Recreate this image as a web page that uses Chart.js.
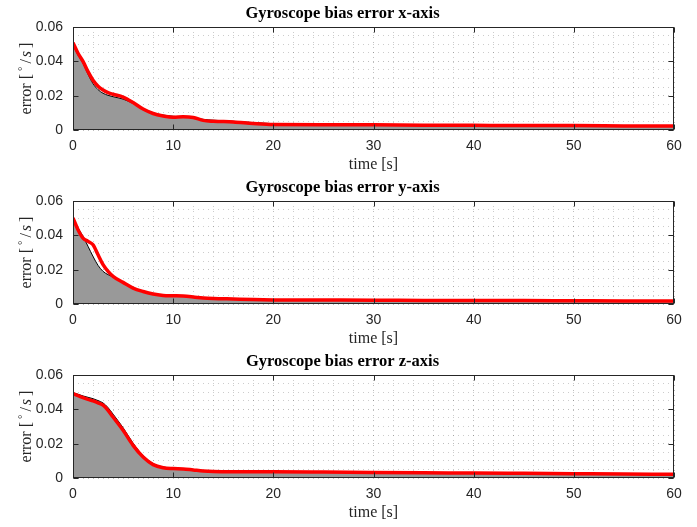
<!DOCTYPE html>
<html>
<head>
<meta charset="utf-8">
<script src="https://cdn.jsdelivr.net/npm/chart.js@4"></script>
<style>
  body { margin: 0; background: #fff; }
  .panel { position: absolute; left: 0; width: 697px; height: 174px; }
</style>
</head>
<body>
<div class="panel" style="top:0px"><canvas id="gyroX" width="697" height="174"></canvas></div>
<div class="panel" style="top:174px"><canvas id="gyroY" width="697" height="174"></canvas></div>
<div class="panel" style="top:348px"><canvas id="gyroZ" width="697" height="174"></canvas></div>
<script>
// sample times [s]
const time = [0, 0.5, 1, 1.5, 2, 2.5, 3, 3.5, 4, 5, 6, 7, 8, 9, 10, 11, 12, 13, 14, 16, 18, 20, 25, 30, 35, 40, 45, 50, 55, 60];

// grey envelope (black outline) and red error curve per axis, in deg/s
const envelopeX = [0.0495, 0.0437, 0.0388, 0.0325, 0.0270, 0.0235, 0.0214, 0.0202, 0.0194, 0.0180, 0.0155, 0.0126, 0.0100, 0.0087, 0.0080, 0.0076, 0.0072, 0.0062, 0.0057, 0.0051, 0.0043, 0.0037, 0.0033, 0.0031, 0.0029, 0.0027, 0.0026, 0.0025, 0.0024, 0.0022];
const errorX    = [0.0509, 0.0447, 0.0400, 0.0340, 0.0290, 0.0255, 0.0233, 0.0218, 0.0208, 0.0192, 0.0160, 0.0122, 0.0096, 0.0082, 0.0074, 0.0077, 0.0073, 0.0056, 0.0051, 0.0047, 0.0038, 0.0032, 0.0031, 0.0030, 0.0028, 0.0027, 0.0026, 0.0026, 0.0024, 0.0023];

const envelopeY = [0.0490, 0.0443, 0.0394, 0.0336, 0.0277, 0.0225, 0.0190, 0.0171, 0.0157, 0.0124, 0.0092, 0.0072, 0.0057, 0.0049, 0.0047, 0.0045, 0.0040, 0.0034, 0.0031, 0.0028, 0.0025, 0.0023, 0.0022, 0.0021, 0.0020, 0.0019, 0.0019, 0.0018, 0.0017, 0.0017];
const errorY    = [0.0501, 0.0433, 0.0384, 0.0365, 0.0345, 0.0287, 0.0229, 0.0190, 0.0161, 0.0126, 0.0093, 0.0073, 0.0058, 0.0050, 0.0048, 0.0046, 0.0041, 0.0035, 0.0032, 0.0029, 0.0026, 0.0024, 0.0023, 0.0022, 0.0021, 0.0020, 0.0020, 0.0019, 0.0018, 0.0018];

const envelopeZ = [0.0497, 0.0488, 0.0478, 0.0470, 0.0462, 0.0451, 0.0437, 0.0410, 0.0372, 0.0293, 0.0203, 0.0130, 0.0084, 0.0064, 0.0058, 0.0055, 0.0049, 0.0043, 0.0040, 0.0039, 0.0038, 0.0038, 0.0036, 0.0033, 0.0031, 0.0030, 0.0028, 0.0026, 0.0024, 0.0023];
const errorZ    = [0.0492, 0.0480, 0.0468, 0.0458, 0.0449, 0.0438, 0.0424, 0.0394, 0.0355, 0.0278, 0.0190, 0.0122, 0.0078, 0.0060, 0.0055, 0.0053, 0.0047, 0.0041, 0.0038, 0.0037, 0.0037, 0.0037, 0.0035, 0.0032, 0.0030, 0.0029, 0.0027, 0.0025, 0.0023, 0.0022];

// labelled ticks; grid lines are drawn at the finer steps in between
const xTicks = [0, 10, 20, 30, 40, 50, 60];
const yTicks = [0, 0.02, 0.04, 0.06];
const xGridStep = 2;
const yGridStep = 0.005;

const isMajor = (list, v) => list.some(t => Math.abs(t - v) < 1e-9);
const axisColor = '#262626';

// box around the axes with inward tick marks on all four sides
const axesBox = {
    id: 'axesBox',
    afterDatasetsDraw(chart) {
        const { ctx, chartArea: a, scales } = chart;
        const l = Math.round(a.left) + 0.5, r = Math.round(a.right) - 0.5;
        const t = Math.round(a.top) + 0.5, b = Math.round(a.bottom) - 0.5;
        ctx.save();
        ctx.strokeStyle = axisColor;
        ctx.lineWidth = 1;
        ctx.strokeRect(l, t, r - l, b - t);
        ctx.beginPath();
        xTicks.forEach(v => {
            const x = Math.round(scales.x.getPixelForValue(v)) + 0.5;
            ctx.moveTo(x, b); ctx.lineTo(x, b - 5);
            ctx.moveTo(x, t); ctx.lineTo(x, t + 5);
        });
        yTicks.forEach(v => {
            const y = Math.round(scales.y.getPixelForValue(v)) + 0.5;
            ctx.moveTo(l, y); ctx.lineTo(l + 5, y);
            ctx.moveTo(r, y); ctx.lineTo(r - 5, y);
        });
        ctx.stroke();
        ctx.restore();
    }
};

// rotated y label: error [°/s] with a raised degree sign and italic s
const yLabel = {
    id: 'yLabel',
    afterDraw(chart) {
        const { ctx, chartArea: a } = chart;
        const parts = [
            { text: 'error [', font: '16px "Liberation Serif"', dy: 0, gap: 3 },
            { text: '°', font: '11px "Liberation Serif"', dy: -5, gap: 3 },
            { text: '/', font: '16px "Liberation Serif"', dy: 0, gap: 2 },
            { text: 's', font: 'italic 16px "Liberation Serif"', dy: 0, gap: 3 },
            { text: ']', font: '16px "Liberation Serif"', dy: 0, gap: 0 }
        ];
        ctx.save();
        let total = 0;
        parts.forEach(p => { ctx.font = p.font; p.w = ctx.measureText(p.text).width; total += p.w + p.gap; });
        ctx.translate(31, (a.top + a.bottom) / 2);
        ctx.rotate(-Math.PI / 2);
        ctx.fillStyle = axisColor;
        ctx.textBaseline = 'alphabetic';
        let x = -total / 2;
        parts.forEach(p => {
            ctx.font = p.font;
            ctx.fillText(p.text, x, p.dy);
            x += p.w + p.gap;
        });
        ctx.restore();
    }
};

function makePanel(id, title, envelope, error) {
    new Chart(document.getElementById(id), {
        type: 'line',
        data: {
            datasets: [
                {
                    data: time.map((t, i) => ({ x: t, y: error[i] })),
                    borderColor: '#ff0000',
                    borderWidth: 3.5,
                    pointRadius: 0,
                    fill: false,
                    cubicInterpolationMode: 'monotone',
                    order: 1
                },
                {
                    data: time.map((t, i) => ({ x: t, y: envelope[i] })),
                    borderColor: '#000000',
                    borderWidth: 1,
                    backgroundColor: '#999999',
                    pointRadius: 0,
                    fill: 'origin',
                    cubicInterpolationMode: 'monotone',
                    order: 2
                }
            ]
        },
        options: {
            responsive: false,
            animation: false,
            events: [],
            layout: { padding: { left: 11, right: 23, top: 0, bottom: 0 } },
            plugins: {
                legend: { display: false },
                tooltip: { enabled: false },
                title: {
                    display: true,
                    text: title,
                    color: '#000',
                    font: { family: 'Liberation Serif', size: 16.5, weight: 'bold' },
                    padding: { top: 3.6, bottom: 3.6 }
                }
            },
            scales: {
                x: {
                    type: 'linear',
                    min: 0,
                    max: 60,
                    afterFit: s => { s.height = 44; },
                    ticks: {
                        stepSize: xGridStep,
                        autoSkip: false,
                        maxRotation: 0,
                        padding: 8,
                        color: axisColor,
                        font: { family: 'Liberation Sans', size: 14 },
                        callback: v => isMajor(xTicks, v) ? String(v) : ''
                    },
                    grid: {
                        drawTicks: false,
                        color: ctx => isMajor(xTicks, ctx.tick.value) ? 'rgba(0,0,0,0.26)' : 'rgba(0,0,0,0.2)'
                    },
                    border: { display: false, dash: [1, 4] },
                    title: {
                        display: true,
                        text: 'time [s]',
                        color: axisColor,
                        font: { family: 'Liberation Serif', size: 16 },
                        padding: { top: 0, bottom: 0 }
                    }
                },
                y: {
                    min: 0,
                    max: 0.06,
                    afterFit: s => { s.width = 62; },
                    ticks: {
                        stepSize: yGridStep,
                        autoSkip: false,
                        padding: 10,
                        color: axisColor,
                        font: { family: 'Liberation Sans', size: 14 },
                        callback: v => isMajor(yTicks, v) ? (Math.abs(v) < 1e-9 ? '0' : v.toFixed(2)) : ''
                    },
                    grid: {
                        drawTicks: false,
                        color: ctx => isMajor(yTicks, ctx.tick.value) ? 'rgba(0,0,0,0.26)' : 'rgba(0,0,0,0.2)'
                    },
                    border: { display: false, dash: [1, 4] }
                }
            }
        },
        plugins: [axesBox, yLabel]
    });
}

makePanel('gyroX', 'Gyroscope bias error x-axis', envelopeX, errorX);
makePanel('gyroY', 'Gyroscope bias error y-axis', envelopeY, errorY);
makePanel('gyroZ', 'Gyroscope bias error z-axis', envelopeZ, errorZ);
</script>
</body>
</html>
